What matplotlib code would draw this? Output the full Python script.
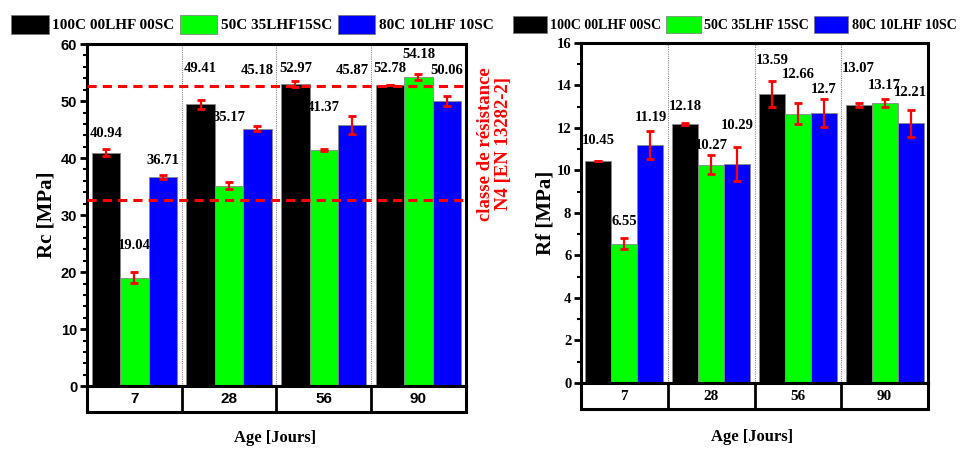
import numpy as np
import matplotlib
matplotlib.use("Agg")
import matplotlib.pyplot as plt
from matplotlib.patches import Patch

ages = ["7", "28", "56", "90"]
series = ["100C 00LHF 00SC", "50C 35LHF15SC", "80C 10LHF 10SC"]
series_rf = ["100C 00LHF 00SC", "50C 35LHF 15SC", "80C 10LHF 10SC"]
colors = ["#000000", "#00ff00", "#0000ff"]

# compression Rc [MPa]
rc = [[40.94, 49.41, 52.97, 52.78],
      [19.04, 35.17, 41.37, 54.18],
      [36.71, 45.18, 45.87, 50.06]]
rc_err = [[0.6, 0.8, 0.5, 0.0],
          [1.0, 0.6, 0.2, 0.5],
          [0.3, 0.4, 1.6, 0.9]]
rc_lab_y = [[44.4, 55.8, 55.8, 55.8],
            [24.7, 47.2, 48.8, 58.2],
            [39.5, 55.3, 55.3, 55.3]]
rc_limits = [32.6, 52.7]

# flexion Rf [MPa]
rf = [[10.45, 12.18, 13.59, 13.07],
      [6.55, 10.27, 12.66, 13.17],
      [11.19, 10.29, 12.7, 12.21]]
rf_err = [[0.0, 0.05, 0.6, 0.1],
          [0.25, 0.45, 0.5, 0.2],
          [0.65, 0.8, 0.65, 0.65]]
rf_lab_y = [[11.4, 13.0, 15.15, 14.8],
            [7.6, 11.15, 14.5, 14.0],
            [12.5, 12.1, 13.8, 13.65]]

SERIF = "Liberation Serif"
SANS = "Liberation Sans"

fig = plt.figure(figsize=(9.64, 4.5), dpi=100)

x = np.arange(len(ages))
w = 0.3
offs = [-w, 0, w]


def draw_panel(ax, tab, vals, errs, lab_y, ymax, major, minor, tick_font, tab_font):
    for i in range(3):
        ax.bar(x + offs[i], vals[i], w, color=colors[i], edgecolor="#888888",
               linewidth=0.6, zorder=2)
        ax.errorbar(x + offs[i], vals[i], yerr=errs[i], fmt="none", ecolor="red",
                    elinewidth=1.6, capsize=3, capthick=2, zorder=4)
        for j in range(len(ages)):
            ax.text(x[j] + offs[i], lab_y[i][j], f"{vals[i][j]:g}", ha="center",
                    va="center", fontsize=10.5, fontweight="bold", family=SERIF,
                    zorder=5)
    for b in [0.5, 1.5, 2.5]:
        ax.axvline(b, color="white", lw=3, zorder=1)
        ax.axvline(b, color="#888888", lw=0.8, ls=(0, (1, 1)), zorder=1.5)
    ax.set_xlim(-0.5, 3.5)
    ax.set_ylim(0, ymax)
    ax.set_xticks([])
    ax.set_yticks(np.arange(0, ymax + 0.1, major))
    ax.set_yticks(np.arange(0, ymax + 0.1, minor), minor=True)
    ax.tick_params(axis="y", which="major", direction="out", length=5, width=2,
                   pad=2)
    ax.tick_params(axis="y", which="minor", direction="out", length=3, width=1.5)
    for lab in ax.get_yticklabels():
        lab.set_family(tick_font)
        lab.set_fontweight("bold")
        lab.set_fontsize(10.5)
    for s in ax.spines.values():
        s.set_linewidth(2.2)
    # category row below
    tab.set_xlim(-0.5, 3.5)
    tab.set_ylim(0, 1)
    tab.set_xticks([])
    tab.set_yticks([])
    for s in tab.spines.values():
        s.set_linewidth(2.2)
    for b in [0.5, 1.5, 2.5]:
        tab.axvline(b, color="black", lw=2)
    for j, a in enumerate(ages):
        tab.text(x[j], 0.5, a, ha="center", va="center", fontsize=11,
                 fontweight="bold", family=tab_font)


ax1 = fig.add_axes([0.0902, 0.142, 0.393, 0.76])
tab1 = fig.add_axes([0.0902, 0.0844, 0.393, 0.058])
draw_panel(ax1, tab1, rc, rc_err, rc_lab_y, 60, 10, 2, SANS, SANS)
for lv in rc_limits:
    ax1.axhline(lv, color="red", lw=2.2, ls=(0, (3, 2)), zorder=3)
ax1.set_ylabel("Rc [MPa]", fontsize=15, fontweight="bold", family=SERIF,
               labelpad=3)
fig.text(0.285, 0.027, "Age [Jours]", ha="center", va="center", fontsize=12,
         fontweight="bold", family=SERIF)

ax2 = fig.add_axes([0.6027, 0.149, 0.36, 0.756])
tab2 = fig.add_axes([0.6027, 0.091, 0.36, 0.058])
draw_panel(ax2, tab2, rf, rf_err, rf_lab_y, 16, 2, 1, SERIF, SERIF)
ax2.set_ylabel("Rf [MPa]", fontsize=15, fontweight="bold", family=SERIF,
               labelpad=1)
fig.text(0.78, 0.029, "Age [Jours]", ha="center", va="center", fontsize=12,
         fontweight="bold", family=SERIF)

fig.text(0.513, 0.68, "classe de résistance\nN4 [EN 13282-2]", rotation=90,
         ha="center", va="center", color="red", fontsize=13.5, fontweight="bold",
         family=SERIF, multialignment="center", linespacing=1.05)

for names, cx, fs in [(series, 0.262, 11), (series_rf, 0.762, 10.1)]:
    handles = [Patch(facecolor=c, edgecolor="#777777", linewidth=0.5) for c in colors]
    fig.legend(handles, names, loc="center", bbox_to_anchor=(cx, 0.946), ncol=3,
               frameon=False, handlelength=2.45, handleheight=1.55,
               handletextpad=0.25, columnspacing=0.35,
               prop={"family": SERIF, "weight": "bold", "size": fs})

fig.savefig("out.png", dpi=100)
